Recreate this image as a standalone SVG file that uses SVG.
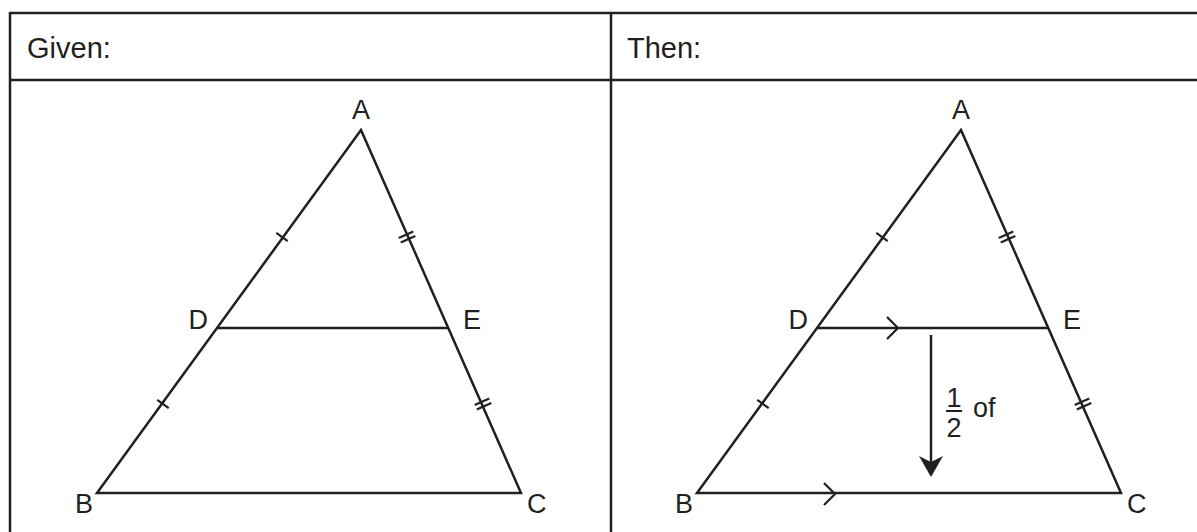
<svg xmlns="http://www.w3.org/2000/svg" width="1197" height="532" viewBox="0 0 1197 532">
<style>
.ln{stroke:#231f20;stroke-width:2.5;fill:none;stroke-linecap:butt}
.tk{stroke:#231f20;stroke-width:2.2;fill:none}
.t{font-family:"Liberation Sans",Arial,sans-serif;font-size:27px;fill:#231f20}
.h{font-family:"Liberation Sans",Arial,sans-serif;font-size:29px;fill:#231f20}
</style>
<defs>
<g id="tri">
<path class="ln" d="M97,493 L361,130 L521,493 Z"/>
<line class="ln" x1="217" y1="328" x2="448" y2="328"/>
<line class="tk" x1="276.3" y1="232.9" x2="287.7" y2="241.1"/>
<line class="tk" x1="157.3" y1="399.9" x2="168.7" y2="408.1"/>
<line class="tk" x1="398.7" y1="237.9" x2="413.3" y2="231.5"/>
<line class="tk" x1="400.7" y1="242.5" x2="415.3" y2="236.1"/>
<line class="tk" x1="474.7" y1="404.9" x2="489.3" y2="398.5"/>
<line class="tk" x1="476.7" y1="409.5" x2="491.3" y2="403.1"/>
<text class="t" x="361" y="119" text-anchor="middle">A</text>
<text class="t" x="208" y="329" text-anchor="end">D</text>
<text class="t" x="463" y="329">E</text>
<text class="t" x="84" y="513" text-anchor="middle">B</text>
<text class="t" x="527" y="513">C</text>
</g>
</defs>
<g id="table">
<line class="ln" x1="10" y1="13" x2="1197" y2="13"/>
<line class="ln" x1="10" y1="80" x2="1197" y2="80"/>
<line class="ln" x1="10" y1="12" x2="10" y2="532"/>
<line class="ln" x1="611" y1="12" x2="611" y2="532"/>
<text class="h" x="27" y="58">Given:</text>
<text class="h" x="627" y="58">Then:</text>
</g>
<g id="given-triangle">
<use href="#tri"/>
</g>
<g id="then-triangle">
<use href="#tri" transform="translate(600,0)"/>
<path class="tk" d="M887,317 L898,328 L887,339"/>
<path class="tk" d="M824,483 L835,494 L824,505"/>
</g>
<g id="connectors">
<line class="ln" x1="931" y1="335" x2="931" y2="463"/>
<path d="M931,477 L919,456 L931,462 L943,456 Z" fill="#231f20"/>
</g>
<g id="label-half">
<text class="t" x="954" y="407" text-anchor="middle">1</text>
<line x1="946" y1="411" x2="962" y2="411" stroke="#231f20" stroke-width="2"/>
<text class="t" x="954" y="437" text-anchor="middle">2</text>
<text class="t" x="973" y="417">of</text>
</g>
</svg>
